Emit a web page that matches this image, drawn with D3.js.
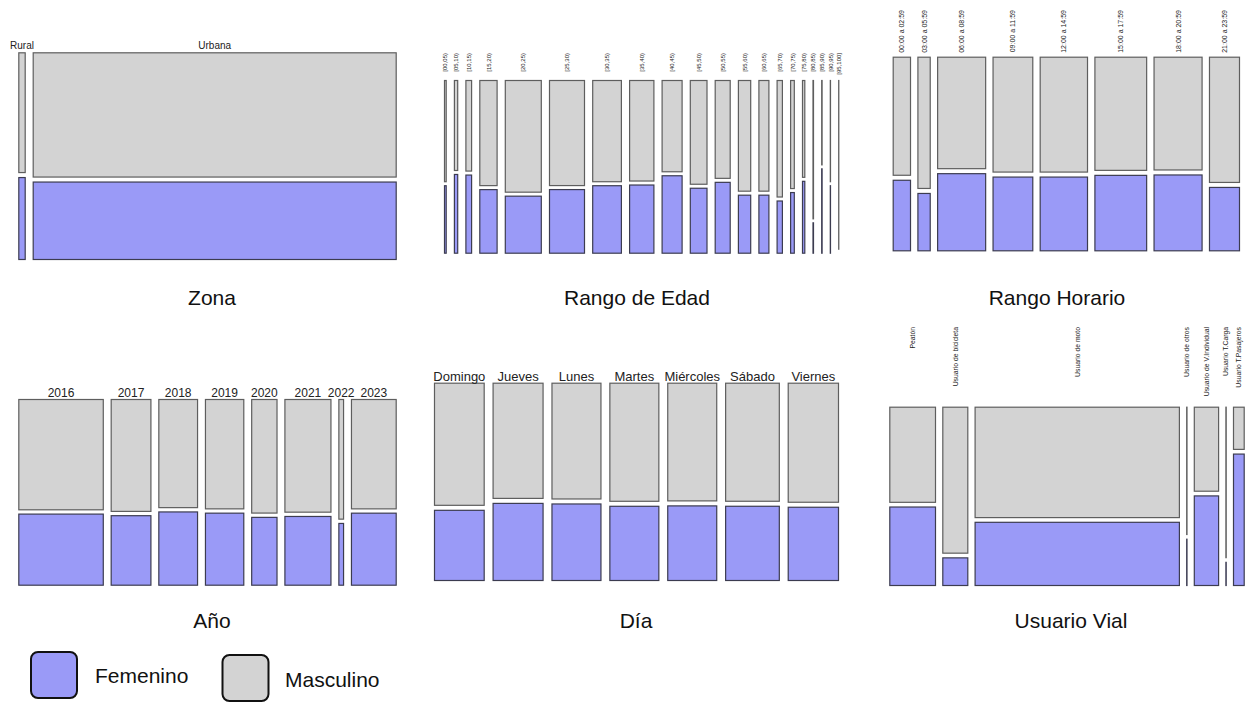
<!DOCTYPE html>
<html>
<head>
<meta charset="utf-8">
<script src="https://cdn.jsdelivr.net/npm/d3@7"></script>
<style>
  body { margin: 0; background: #fff; }
  svg { display: block; font-family: "Liberation Sans", Arial, Helvetica, sans-serif; }
</style>
</head>
<body>
<svg id="chart" width="1249" height="702"></svg>
<script>
// counts per category: Femenino / Masculino
const zonaCats = ["Rural", "Urbana"];
const zonaFem  = [260, 13939];
const zonaMasc = [380, 22361];

const edadCats = ["[00,05)", "[05,10)", "[10,15)", "[15,20)", "[20,25)", "[25,30)", "[30,35)",
                  "[35,40)", "[40,45)", "[45,50)", "[50,55)", "[55,60)", "[60,65)", "[65,70)",
                  "[70,75)", "[75,80)", "[80,85)", "[85,90)", "[90,95)", "[95,100]"];
const edadFem  = [68, 154, 264, 652, 1217, 1320, 1148, 982, 918, 643, 630, 423, 344, 164, 133, 98, 9, 20, 8, 0];
const edadMasc = [102, 176, 306, 1078, 2383, 2180, 1722, 1448, 1082, 1027, 870, 807, 656, 366, 237, 132, 41, 20, 12, 10];

const horaCats = ["00:00 a 02:59", "03:00 a 05:59", "06:00 a 08:59", "09:00 a 11:59",
                  "12:00 a 14:59", "15:00 a 17:59", "18:00 a 20:59", "21:00 a 23:59"];
const horaFem  = [647, 374, 1963, 1552, 1849, 2068, 1930, 1008];
const horaMasc = [1083, 856, 2837, 2418, 2881, 3102, 2870, 1992];

const anioCats = ["2016", "2017", "2018", "2019", "2020", "2021", "2022", "2023"];
const anioFem  = [3308, 1521, 1563, 1521, 946, 1743, 160, 1775];
const anioMasc = [5132, 2449, 2307, 2309, 1584, 2857, 310, 2695];

const diaCats = ["Domingo", "Jueves", "Lunes", "Martes", "Miércoles", "Sábado", "Viernes"];
const diaFem  = [1814, 2005, 1950, 1891, 1901, 2073, 1916];
const diaMasc = [3156, 2995, 2950, 3009, 2999, 3297, 3114];

const vialCats = ["Peatón", "Usuario de bicicleta", "Usuario de moto", "Usuario de otros",
                  "Usuario de V.Individual", "Usuario T.Carga", "Usuario T.Pasajeros"];
const vialFem  = [2066, 398, 7437, 8, 1254, 4, 810];
const vialMasc = [2504, 2102, 12993, 22, 1176, 26, 260];

const sexos = ["Femenino", "Masculino"];

const FEM_COL = "#9a9af7", MASC_COL = "#d3d3d3";

const panels = [
  {title: "Zona", cats: zonaCats, fem: zonaFem, masc: zonaMasc,
   x0: 18.8, x1: 396.2, y0: 52.8, y1: 259.5, gapX: 8, gapY: 5,
   lab: {rot: false, size: 10, y: 49}, tx: 212, ty: 305},
  {title: "Rango de Edad", cats: edadCats, fem: edadFem, masc: edadMasc,
   x0: 444.5, x1: 838.8, y0: 80.5, y1: 253.2, gapX: 8.2, gapY: 4,
   lab: {rot: true, size: 6, y: 53}, tx: 637, ty: 305},
  {title: "Rango Horario", cats: horaCats, fem: horaFem, masc: horaMasc,
   x0: 893.2, x1: 1239.5, y0: 57.2, y1: 250.8, gapX: 7.4, gapY: 5,
   lab: {rot: true, size: 7, y: 10}, tx: 1057, ty: 305},
  {title: "Año", cats: anioCats, fem: anioFem, masc: anioMasc,
   x0: 18.8, x1: 396.2, y0: 399.5, y1: 585.2, gapX: 7.9, gapY: 4.3,
   lab: {rot: false, size: 12, y: 396.5}, tx: 212, ty: 628},
  {title: "Día", cats: diaCats, fem: diaFem, masc: diaMasc,
   x0: 434.5, x1: 838.5, y0: 383.2, y1: 580.5, gapX: 8.9, gapY: 5,
   lab: {rot: false, size: 13, y: 380.5}, tx: 636, ty: 628},
  {title: "Usuario Vial", cats: vialCats, fem: vialFem, masc: vialMasc,
   x0: 889.8, x1: 1244.2, y0: 407.2, y1: 585.5, gapX: 7.3, gapY: 4.7,
   lab: {rot: true, size: 6.8, y: 327}, tx: 1071, ty: 628}
];

const svg = d3.select("#chart");

function drawMosaic(p) {
  const g = svg.append("g");
  const n = p.cats.length;
  const totals = p.cats.map((c, i) => p.fem[i] + p.masc[i]);
  const cum = d3.cumsum(totals);
  const x = d3.scaleLinear()
      .domain([0, d3.sum(totals)])
      .range([0, (p.x1 - p.x0) - p.gapX * (n - 1)]);
  const y = d3.scaleLinear().domain([0, 1]).range([0, p.y1 - p.y0 - p.gapY]);

  const cells = p.cats.map((c, i) => ({
    cat: c,
    left: p.x0 + x(cum[i] - totals[i]) + i * p.gapX,
    w: x(totals[i]),
    hF: y(p.fem[i] / totals[i]),
    hM: y(p.masc[i] / totals[i])
  }));

  g.selectAll("rect.masc").data(cells).enter().append("rect")
      .attr("class", "masc")
      .attr("x", d => d.left).attr("y", p.y0)
      .attr("width", d => d.w).attr("height", d => d.hM)
      .attr("fill", MASC_COL).attr("stroke", "#5e5e5e").attr("stroke-width", 1.2);

  g.selectAll("rect.fem").data(cells).enter().append("rect")
      .attr("class", "fem")
      .attr("x", d => d.left).attr("y", d => p.y1 - d.hF)
      .attr("width", d => d.w).attr("height", d => d.hF)
      .attr("fill", FEM_COL).attr("stroke", "#3c3c50").attr("stroke-width", 1.2);

  const lab = g.selectAll("text.lab").data(cells).enter().append("text")
      .attr("class", "lab")
      .attr("font-size", p.lab.size)
      .attr("fill", "#222")
      .text(d => d.cat);
  if (p.lab.rot) {
    lab.attr("transform", d => `translate(${d.left + d.w / 2},${p.lab.y}) rotate(-90)`)
       .attr("text-anchor", "end")
       .attr("dy", "0.35em");
  } else {
    lab.attr("x", d => d.left + d.w / 2)
       .attr("y", p.lab.y)
       .attr("text-anchor", "middle");
  }

  svg.append("text")
      .attr("x", p.tx).attr("y", p.ty)
      .attr("text-anchor", "middle")
      .attr("font-size", 21)
      .attr("fill", "#111")
      .text(p.title);
}

panels.forEach(drawMosaic);

// legend
const legend = [
  {name: sexos[0], col: FEM_COL, x: 31, y: 652, tx: 95, ty: 682.5},
  {name: sexos[1], col: MASC_COL, x: 222.5, y: 655, tx: 285, ty: 686.5}
];
const lg = svg.append("g");
lg.selectAll("rect").data(legend).enter().append("rect")
    .attr("x", d => d.x).attr("y", d => d.y)
    .attr("width", 46).attr("height", 46)
    .attr("rx", 7).attr("ry", 7)
    .attr("fill", d => d.col)
    .attr("stroke", "#111").attr("stroke-width", 2);
lg.selectAll("text").data(legend).enter().append("text")
    .attr("x", d => d.tx).attr("y", d => d.ty)
    .attr("font-size", 21)
    .attr("fill", "#111")
    .text(d => d.name);
</script>
</body>
</html>
